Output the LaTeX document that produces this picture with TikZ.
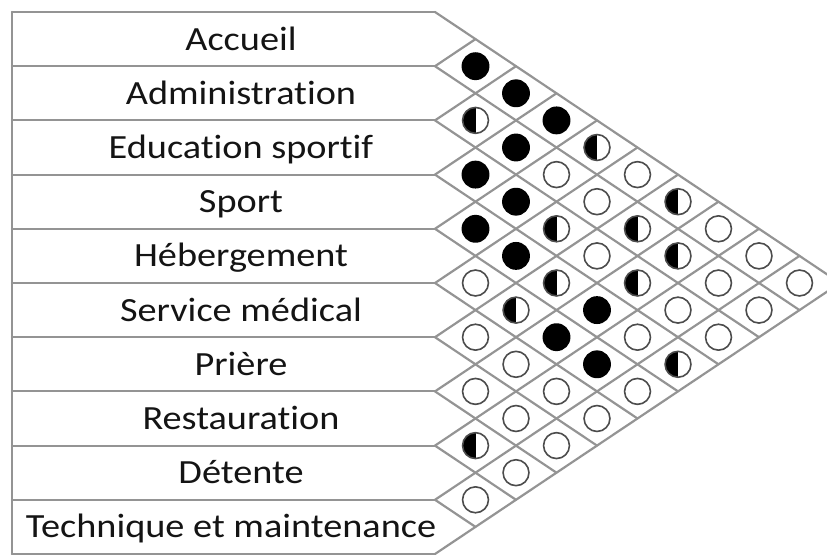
\documentclass[tikz,border=0pt]{standalone}
\usepackage{fontspec}
\setmainfont{Carlito}[Ligatures=NoCommon]
\usetikzlibrary{positioning}
\tikzstyle{gridline} = [line width=2.2pt, black!42, line cap=round, line join=round]
\tikzstyle{rowlabel} = [font=\fontsize{34}{40}\selectfont, text=black!92, anchor=base, inner sep=0pt]
\tikzstyle{relnone} = [circle, draw=black!70, line width=1.6pt, fill=white, minimum size=26pt, inner sep=0pt]
\tikzstyle{relstrong} = [circle, fill=black, minimum size=28pt, inner sep=0pt]
\tikzstyle{relhalf} = [relnone, path picture={\fill[black] (path picture bounding box.south west) rectangle (path picture bounding box.north);}]

\begin{document}
\begin{tikzpicture}[x=1bp, y=-1bp]
    \useasboundingbox (0,0) rectangle (827,555);

    % Box corners (row height 54.2)
    \foreach \k in {0,...,10} {
        \coordinate (b\k) at (435, 12+\k*54.2);
        \coordinate (l\k) at (12, 12+\k*54.2);
    }

    % Row boxes
    \foreach \k in {0,...,10} {
        \draw[gridline] (l\k) -- (b\k);
    }
    \draw[gridline] (l0) -- (l10);

    % Diagonal grid
    \foreach \k in {0,...,10} {
        \draw[gridline] (b\k) -- ++({40.5*(10-\k)}, {27.1*(10-\k)});
        \draw[gridline] (b\k) -- ++({40.5*\k}, {-27.1*\k});
    }

    % Labels
    \foreach \name/\xc [count=\i from 0] in {Accueil/241, Administration/241,
        Education sportif/241, Sport/241, Hébergement/241, Service médical/241,
        Prière/241, Restauration/241, Détente/241, Technique et maintenance/231} {
        \node[rowlabel] (row\i) at (\xc, 12+27.1+\i*54.2+11) {\scalebox{1.13}[1]{\name}};
    }

    % Relations
    \foreach \i/\j/\s in {0/1/strong, 0/2/strong, 1/2/half, 0/3/strong, 1/3/strong,
        0/4/half, 2/3/strong, 1/4/none, 0/5/none, 2/4/strong, 1/5/none, 0/6/half,
        3/4/strong, 2/5/half, 1/6/half, 0/7/none, 3/5/strong, 2/6/none, 1/7/half,
        0/8/none, 4/5/none, 3/6/half, 2/7/half, 1/8/none, 0/9/none, 4/6/half,
        3/7/strong, 2/8/none, 1/9/none, 5/6/none, 4/7/strong, 3/8/none, 2/9/none,
        5/7/none, 4/8/strong, 3/9/half, 6/7/none, 5/8/none, 4/9/none, 6/8/none,
        5/9/none, 7/8/half, 6/9/none, 7/9/none, 8/9/none} {
        \node[rel\s] (c\i\j) at ({435+40.5*(\j-\i)}, {12+27.1*(\i+\j+1)}) {};
    }

\end{tikzpicture}
\end{document}
